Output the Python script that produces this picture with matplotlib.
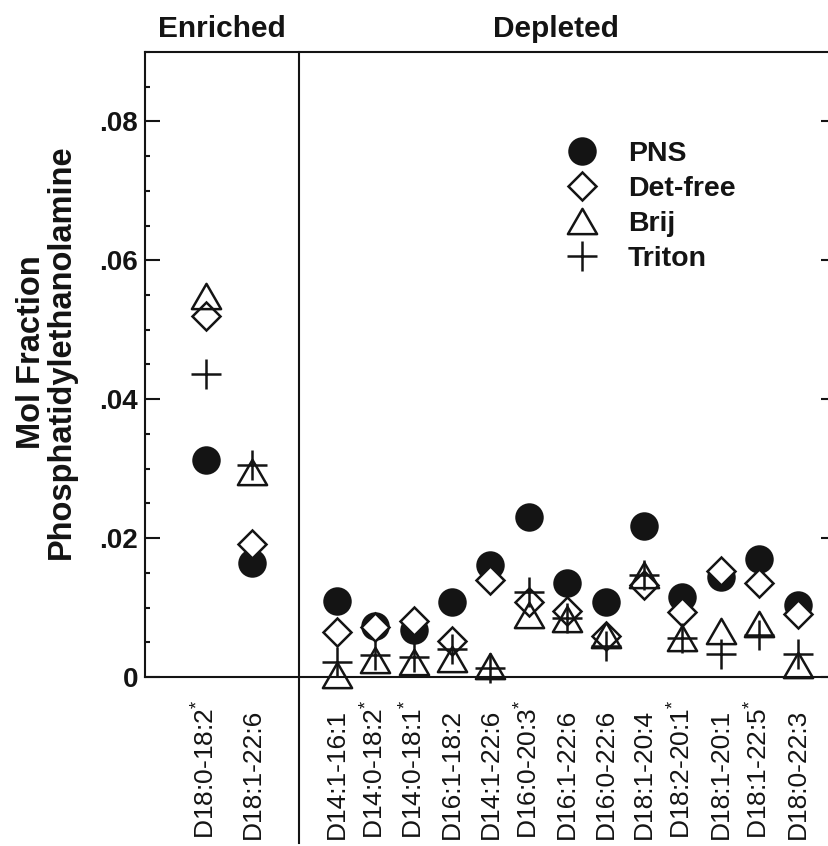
import numpy as np
import matplotlib
matplotlib.use("Agg")
import matplotlib.pyplot as plt
from matplotlib.path import Path
from matplotlib.ticker import FixedLocator, FixedFormatter, MultipleLocator

plt.rcParams['font.family'] = ['Liberation Sans', 'DejaVu Sans']
plt.rcParams['mathtext.default'] = 'regular'

# species groups
enriched = ["D18:0-18:2$^{*}$", "D18:1-22:6"]
depleted = ["D14:1-16:1", "D14:0-18:2$^{*}$", "D14:0-18:1$^{*}$", "D16:1-18:2",
            "D14:1-22:6", "D16:0-20:3$^{*}$", "D16:1-22:6", "D16:0-22:6",
            "D18:1-20:4", "D18:2-20:1$^{*}$", "D18:1-20:1", "D18:1-22:5$^{*}$",
            "D18:0-22:3"]

# mol fraction per preparation, enriched species first
pns = [0.0313, 0.0164,
       0.0110, 0.0074, 0.0067, 0.0108, 0.0162, 0.0231, 0.0135,
       0.0108, 0.0217, 0.0115, 0.0144, 0.0170, 0.0103]
det_free = [0.0520, 0.0191,
            0.0065, 0.0072, 0.0081, 0.0052, 0.0139, 0.0108, 0.0095,
            0.0059, 0.0133, 0.0094, 0.0153, 0.0135, 0.0091]
brij = [0.0548, 0.0295,
        0.0003, 0.0024, 0.0021, 0.0026, 0.0016, 0.0089, 0.0083,
        0.0060, 0.0147, 0.0056, 0.0066, 0.0076, 0.0018]
triton = [0.0436, 0.0305,
          0.0022, 0.0032, 0.0029, 0.0040, 0.0013, 0.0122, 0.0085,
          0.0044, 0.0147, 0.0056, 0.0033, 0.0061, 0.0033]

ytick_values = [0, 0.02, 0.04, 0.06, 0.08]
ytick_labels = ['0', '.02', '.04', '.06', '.08']

ink = '#141414'
W, H = 829, 846

fig = plt.figure(figsize=(W / 100, H / 100), dpi=100)
ax = fig.add_axes([145 / W, (H - 677) / H, (836 - 145) / W, (677 - 52) / H])

# enriched columns sit a bit wider apart than the depleted ones
xpos = np.concatenate([1.6 + 1.2 * np.arange(len(enriched)),
                       5.0 + np.arange(len(depleted))])
labels = enriched + depleted

# equilateral open triangle, centred on its bounding box
tri = Path([(0, 0.433), (-0.5, -0.433), (0.5, -0.433), (0, 0.433)], closed=True)

h_pns, = ax.plot(xpos, pns, 'o', ms=19, mfc=ink, mec=ink, mew=1.5, ls='none', label='PNS')
h_det, = ax.plot(xpos, det_free, 'D', ms=14.5, mfc='white', mec=ink, mew=1.8, ls='none', label='Det-free')
h_brij, = ax.plot(xpos, brij, marker=tri, ms=21, mfc='none', mec=ink, mew=1.8, ls='none',
                  label='Brij', clip_on=False)
h_tri, = ax.plot(xpos, triton, '+', ms=22, mec=ink, mew=1.8, ls='none', label='Triton', clip_on=False)

ax.set_xlim(0, 18)
ax.set_ylim(0, 0.09)
ax.set_xticks([])

ax.yaxis.set_major_locator(FixedLocator(ytick_values))
ax.yaxis.set_major_formatter(FixedFormatter(ytick_labels))
ax.yaxis.set_minor_locator(MultipleLocator(0.005))
ax.tick_params(axis='y', which='major', direction='in', length=11, width=1.5,
               pad=5, labelsize=20, colors=ink, right=True)
ax.tick_params(axis='y', which='minor', direction='in', length=3.5, width=1.5,
               colors=ink, right=True)
for lab in ax.get_yticklabels():
    lab.set_fontweight('bold')

for s in ax.spines.values():
    s.set_linewidth(1.5)
    s.set_color(ink)

# separator between the two groups, running down through the labels
ax.axvline(4, ymin=-0.266, ymax=1, color=ink, lw=1.5, clip_on=False)

trans = ax.get_xaxis_transform()
for x, lab in zip(xpos, labels):
    ax.text(x, -0.259, lab, transform=trans, rotation=90, ha='center', va='bottom',
            fontsize=19, color=ink)

ax.text(2.0, 1.024, 'Enriched', transform=trans, ha='center', va='baseline',
        fontsize=21.5, fontweight='bold', color=ink)
ax.text(10.7, 1.024, 'Depleted', transform=trans, ha='center', va='baseline',
        fontsize=21.5, fontweight='bold', color=ink)

ax.set_ylabel('Mol Fraction\nPhosphatidylethanolamine', fontsize=23.5,
              fontweight='bold', color=ink, linespacing=0.95)
ax.yaxis.set_label_coords(-0.098, 0.52)

leg = ax.legend(handles=[h_pns, h_det, h_brij, h_tri], loc='upper left',
                bbox_to_anchor=(565 / W, 1 - 141 / H), bbox_transform=fig.transFigure,
                frameon=False, fontsize=20.5, handlelength=1.2, handletextpad=1.0,
                labelspacing=0.32, borderpad=0, borderaxespad=0, numpoints=1)
for t in leg.get_texts():
    t.set_fontweight('bold')
    t.set_color(ink)

fig.savefig('out.png', dpi=100)
